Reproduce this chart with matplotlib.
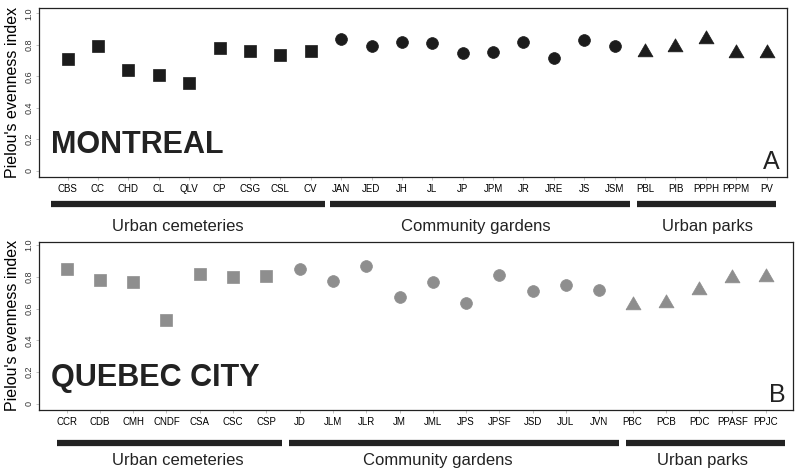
import matplotlib
matplotlib.use("Agg")
import matplotlib.pyplot as plt
import matplotlib.transforms as mtransforms

plt.rcParams['font.family'] = ['Liberation Sans', 'DejaVu Sans']

# Montreal (panel A)
mtl_sites = ['CBS', 'CC', 'CHD', 'CL', 'QLV', 'CP', 'CSG', 'CSL', 'CV',
             'JAN', 'JED', 'JH', 'JL', 'JP', 'JPM', 'JR', 'JRE', 'JS', 'JSM',
             'PBL', 'PIB', 'PPPH', 'PPPM', 'PV']
mtl_groups = ['cem'] * 9 + ['gar'] * 10 + ['park'] * 5
mtl_even = [0.708, 0.794, 0.638, 0.610, 0.559, 0.780, 0.760, 0.737, 0.760,
            0.835, 0.794, 0.818, 0.809, 0.746, 0.756, 0.818, 0.714, 0.828, 0.792,
            0.756, 0.788, 0.835, 0.746, 0.746]

# Quebec City (panel B)
qc_sites = ['CCR', 'CDB', 'CMH', 'CNDF', 'CSA', 'CSC', 'CSP',
            'JD', 'JLM', 'JLR', 'JM', 'JML', 'JPS', 'JPSF', 'JSD', 'JUL', 'JVN',
            'PBC', 'PCB', 'PDC', 'PPASF', 'PPJC']
qc_groups = ['cem'] * 7 + ['gar'] * 10 + ['park'] * 5
qc_even = [0.851, 0.782, 0.769, 0.526, 0.816, 0.797, 0.807,
           0.847, 0.774, 0.866, 0.675, 0.765, 0.637, 0.813, 0.711, 0.746, 0.715,
           0.620, 0.637, 0.715, 0.792, 0.800]

group_names = {'cem': 'Urban cemeteries', 'gar': 'Community gardens', 'park': 'Urban parks'}
# equilateral triangle like R's pch 17
tri = [(-1, -0.577), (1, -0.577), (0, 1.155), (-1, -0.577)]
markers = {'cem': ('s', 8), 'gar': ('o', 8.5), 'park': (tri, 12.5)}

fig = plt.figure(figsize=(7.95, 4.72), dpi=100)
axA = fig.add_axes([0.049, 0.625, 0.9406, 0.358])
axB = fig.add_axes([0.049, 0.1314, 0.9485, 0.3566])


def draw_panel(ax, sites, groups, vals, color, xlim, ylim, city, letter, bar_spans, bar_y, label_y):
    x = list(range(1, len(sites) + 1))
    for g in ['cem', 'gar', 'park']:
        xs = [xi for xi, gi in zip(x, groups) if gi == g]
        ys = [v for v, gi in zip(vals, groups) if gi == g]
        m, size = markers[g]
        ax.plot(xs, ys, linestyle='none', marker=m, color=color,
                markersize=size, markeredgecolor=color, markeredgewidth=0.5)
    ax.set_xlim(*xlim)
    ax.set_ylim(*ylim)
    ax.set_xticks(x)
    ax.set_xticklabels(sites, fontsize=7)
    ax.set_yticks([0, 0.2, 0.4, 0.6, 0.8, 1.0])
    ax.set_yticklabels(['0', '0.2', '0.4', '0.6', '0.8', '1.0'], fontsize=6.5,
                       rotation=90, va='center', color='#333333')
    ax.tick_params(axis='both', length=2, width=0.5, color='#aaaaaa', pad=2)
    ax.tick_params(axis='x', pad=3)
    for s in ax.spines.values():
        s.set_linewidth(0.9)
        s.set_color('#222222')
    ax.set_ylabel("Pielou's evenness index", fontsize=11.5, labelpad=3)
    ax.text(0.016, 0.14, city, transform=ax.transAxes, fontsize=22,
            fontweight='bold', color='#222222', va='baseline')
    ax.text(0.99, 0.05, letter, transform=ax.transAxes, fontsize=18,
            ha='right', va='baseline', color='#222222')
    trans = mtransforms.blended_transform_factory(ax.transData, ax.transAxes)
    for g, x0, x1, xl in bar_spans:
        ax.plot([x0, x1], [bar_y, bar_y], transform=trans, color='#222222',
                linewidth=4.5, solid_capstyle='butt', clip_on=False)
        ax.text(xl, label_y, group_names[g], transform=trans,
                ha='center', va='center', fontsize=12, color='#222222')


draw_panel(axA, mtl_sites, mtl_groups, mtl_even, '#1c1c1c', (0.06, 24.66),
           (-0.04, 1.034), 'MONTREAL', 'A',
           [('cem', 0.47, 9.46, 4.63),
            ('gar', 9.63, 19.5, 14.43),
            ('park', 19.72, 24.3, 22.06)], -0.16, -0.29)
draw_panel(axB, qc_sites, qc_groups, qc_even, '#8e8e8e', (0.17, 22.82),
           (-0.038, 1.021), 'QUEBEC CITY', 'B',
           [('cem', 0.7, 7.46, 4.34),
            ('gar', 7.69, 17.58, 12.15),
            ('park', 17.81, 22.57, 20.1)], -0.194, -0.30)

fig.savefig('out.png', dpi=100)
